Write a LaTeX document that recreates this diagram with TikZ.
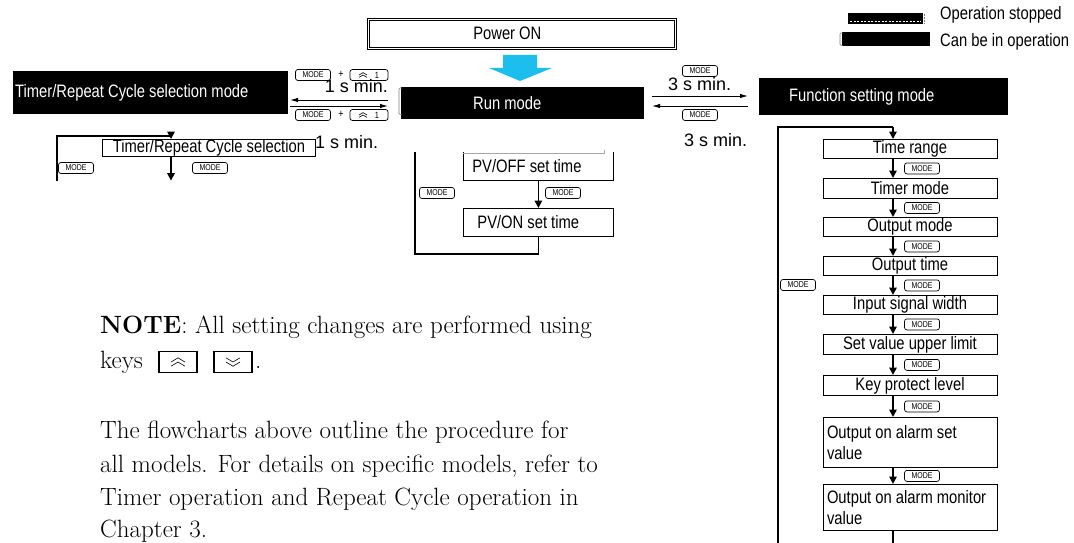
\documentclass[tikz,border=0pt]{standalone}
\usepackage{fontspec}
\usetikzlibrary{calc, positioning, arrows.meta}

\newfontfamily\condfont[FakeStretch=0.82]{Liberation Sans}
\newfontfamily\arialfont{Liberation Sans}
\definecolor{powerblue}{HTML}{1CBEEE}

\newcommand{\labelfont}{\condfont\fontsize{18}{21}\selectfont}

% two stacked chevrons: centre, half width, 1 = up / -1 = down
\newcommand{\chevpair}[3]{%
  \foreach \dy in {-0.3,0.3}{
    \draw[line width=0.6pt] ($(#1)+({-#2},{(\dy+0.3)*#2*#3})$) -- ($(#1)+(0,{(\dy-0.3)*#2*#3})$) -- ($(#1)+({#2},{(\dy+0.3)*#2*#3})$);
  }}

\tikzset{
  modebox/.style={fill=black, text=white, font=\labelfont, inner ysep=0pt, align=flush left, anchor=north west},
  stepbox/.style={draw, line width=0.8pt, font=\labelfont, inner ysep=0pt, inner xsep=3pt, minimum width=174},
  modekey/.style={draw, rounded corners=2.5pt, line width=0.7pt, fill=white, font=\condfont\fontsize{8.5}{9}\selectfont, minimum width=35, minimum height=11, inner sep=0pt},
  arrowkey/.style={draw, line width=1.3pt, minimum width=38, minimum height=21, inner sep=0pt},
  timetxt/.style={font=\arialfont\fontsize{18}{20}\selectfont, inner sep=0pt},
  lgtxt/.style={font=\labelfont, inner sep=0pt, anchor=west},
  bodytxt/.style={font=\fontsize{25}{30}\selectfont, inner sep=0pt, anchor=base west},
  loopline/.style={line width=1.6pt},
  flowarrow/.style={line width=1.6pt, -{Triangle[length=7.5pt, width=7.5pt]}},
  modearrow/.style={line width=1pt, -{Latex[length=8pt, width=4.5pt]}},
}

\begin{document}
\begin{tikzpicture}[x=1pt, y=-1pt]
  \useasboundingbox (0,0) rectangle (1074,543);

  % Legend
  \node[fill=black, minimum width=75, minimum height=11, inner sep=0pt, anchor=north west] (stopkey) at (848,13) {};
  \draw[white, line width=0.6pt, dash pattern=on 2pt off 1.5pt] ($(stopkey.south west)+(2,-3)$) -- ($(stopkey.south east)+(-2,-3)$);
  \draw[gray, line width=0.5pt, densely dotted] ($(stopkey.north east)+(1,1)$) -- ($(stopkey.south east)+(1,-1)$);
  \node[fill=black, minimum width=88, minimum height=14, inner sep=0pt, anchor=north west] (runkey) at (842,32) {};
  \draw[gray, line width=0.6pt, rounded corners=1pt] ($(runkey.north west)+(1,1)$) -- ++(-3,0) |- ($(runkey.south west)+(1,-1)$);
  \node[lgtxt] (stoptxt) at (940,15) {Operation stopped};
  \node[lgtxt] (runtxt) at (940,42) {Can be in operation};

  % Power ON
  \node[draw, double, double distance=1.3pt, line width=0.6pt, minimum height=29, inner ysep=0pt, inner xsep=105pt, text width=97pt, align=flush left, font=\labelfont, anchor=north west] (power) at (368,19) {Power ON};
  \fill[powerblue] (503,55) -- (537,55) -- (537,68) -- (552,68) -- (520,81) -- (489,68) -- (503,68) -- cycle;

  % Modes
  \node[modebox, minimum height=43, inner xsep=2pt, text width=271pt] (trmode) at (13,71) {Timer/Repeat Cycle selection mode};
  \node[modebox, minimum height=32, inner xsep=72pt, text width=99pt] (run) at (401,87) {Run mode};
  \draw[gray, line width=0.6pt, rounded corners=1pt] ($(run.north west)+(1,1)$) -- ++(-3,0) |- ($(run.south west)+(1,-5)$);
  \node[modebox, minimum height=37, inner xsep=30pt, text width=189pt] (func) at (759,78) {Function setting mode};

  % Timer/Repeat <-> Run
  \coordinate (lA) at (388,100);
  \coordinate (lB) at (290,106);
  \draw[modearrow] (lA) -- (lA -| lB);
  \draw[modearrow] (lB) -- (lB -| lA);
  \node[modekey] (lmodeA) at (313,75) {MODE};
  \node[font=\condfont\fontsize{11}{11}\selectfont, inner sep=0pt] (lplusA) at (341,74) {+};
  \node[modekey, minimum width=38] (lupA) at (369,75) {};
  \chevpair{$(lupA.center)+(-6,0)$}{4}{1}
  \node[font=\condfont\fontsize{9}{9}\selectfont, inner sep=0pt] (loneA) at ($(lupA.center)+(8,0)$) {1};
  \node[timetxt, anchor=south east] (lminA) at (388,93) {1 s min.};
  \node[modekey] (lmodeB) at (313,115) {MODE};
  \node[font=\condfont\fontsize{11}{11}\selectfont, inner sep=0pt] (lplusB) at (341,114) {+};
  \node[modekey, minimum width=38] (lupB) at (369,115) {};
  \chevpair{$(lupB.center)+(-6,0)$}{4}{1}
  \node[font=\condfont\fontsize{9}{9}\selectfont, inner sep=0pt] (loneB) at ($(lupB.center)+(8,0)$) {1};
  \node[timetxt, anchor=west] (lminB) at (315,142) {1 s min.};

  % Run <-> Function setting
  \coordinate (rA) at (652,96);
  \coordinate (rB) at (748,106);
  \draw[modearrow] (rA) -- (rA -| rB);
  \draw[modearrow] (rB) -- (rB -| rA);
  \node[modekey] (rmodeA) at (700,71) {MODE};
  \node[timetxt, anchor=west] (rminA) at (668,84) {3 s min.};
  \node[modekey] (rmodeB) at (700,115) {MODE};
  \node[timetxt, anchor=west] (rminB) at (684,140) {3 s min.};

  % Timer/Repeat Cycle selection loop
  \node[stepbox, minimum width=213, minimum height=16, anchor=north west] (trsel) at (102,139) {Timer/Repeat Cycle selection};
  \coordinate (trtop) at (171,136);
  \draw[loopline] (57,181) |- (trtop);
  \draw[flowarrow] (trtop) -- (trtop |- trsel.north);
  \draw[flowarrow] (trsel.south -| trtop) -- ++(0,24);
  \node[modekey] (trkeyL) at (76,168) {MODE};
  \node[modekey] (trkeyR) at (210,168) {MODE};

  % Run mode loop
  \node[stepbox, minimum width=150, minimum height=28, anchor=north west, draw=none, inner xsep=9pt, text width=132pt, align=flush left] (pvoff) at (463,152) {PV/OFF set time};
  \draw[line width=0.8pt] (pvoff.north west) |- (pvoff.south east) -- (pvoff.north east);
  \draw[gray!70, line width=0.5pt] ($(pvoff.north west)+(0,1)$) -- ($(pvoff.north east)+(-10,1)$) -- ++(0,-3);
  \node[stepbox, minimum width=150, minimum height=28, anchor=north west, inner xsep=14pt, text width=122pt, align=flush left] (pvon) at (463,208) {PV/ON set time};
  \draw[flowarrow] (pvoff.south) -- (pvon.north);
  \coordinate (runloop) at (415,152);
  \draw[loopline] (pvon.south) -- (pvon.south |- 0,254) -| (runloop);
  \node[modekey] (pvkeyL) at (437,193) {MODE};
  \node[modekey] (pvkeyR) at (563,193) {MODE};

  % Function setting loop
  \node[stepbox, minimum height=19, anchor=north] (trange) at (910,139) {Time range};
  \node[stepbox, minimum height=20, anchor=north] (tmodebox) at (910,178) {Timer mode};
  \node[stepbox, minimum height=19, anchor=north] (omode) at (910,217) {Output mode};
  \node[stepbox, minimum height=19, anchor=north] (otime) at (910,256) {Output time};
  \node[stepbox, minimum height=19, anchor=north] (insig) at (910,295) {Input signal width};
  \node[stepbox, minimum height=20, anchor=north] (setlim) at (910,334) {Set value upper limit};
  \node[stepbox, minimum height=20, anchor=north] (keyprot) at (910,375) {Key protect level};
  \node[stepbox, minimum height=50, anchor=north, text width=166, align=flush left] (alarmset) at (910,417) {Output on alarm set\\value};
  \node[stepbox, minimum height=46, anchor=north, text width=166, align=flush left] (alarmmon) at (910,484) {Output on alarm monitor\\value};
  \coordinate (fx) at (893,0);
  \coordinate (keyx) at (922,0);
  \foreach \a/\b in {trange/tmodebox, tmodebox/omode, omode/otime, otime/insig, insig/setlim, setlim/keyprot, keyprot/alarmset, alarmset/alarmmon}{
    \draw[flowarrow] (\a.south -| fx) -- (\b.north -| fx);
    \node[modekey] (key-\b) at ($(\a.south -| keyx)!0.5!(\b.north -| keyx)$) {MODE};
  }
  \coordinate (ftop) at (893,127);
  \draw[loopline] (778,543) |- (ftop);
  \draw[flowarrow] (ftop) -- (trange.north -| ftop);
  \draw[loopline] (alarmmon.south -| fx) -- (893,543);
  \node[modekey] (funckey) at (798,285) {MODE};

  % Note text
  \node[bodytxt] (note) at (100,333) {\textbf{NOTE}: All setting changes are performed using};
  \node[bodytxt] (keysword) at (100,368) {keys};
  \node[arrowkey] (upk) at (178,362) {};
  \chevpair{upk.center}{7}{1}
  \node[arrowkey] (downk) at (233,362) {};
  \chevpair{downk.center}{7}{-1}
  \node[bodytxt] (keysdot) at (255,368) {.};
  \node[bodytxt] (para1) at (100,438) {The flowcharts above outline the procedure for};
  \node[bodytxt] (para2) at (100,472) {all models. For details on specific models, refer to};
  \node[bodytxt] (para3) at (100,505) {Timer operation and Repeat Cycle operation in};
  \node[bodytxt] (para4) at (100,537) {Chapter 3.};
\end{tikzpicture}
\end{document}
